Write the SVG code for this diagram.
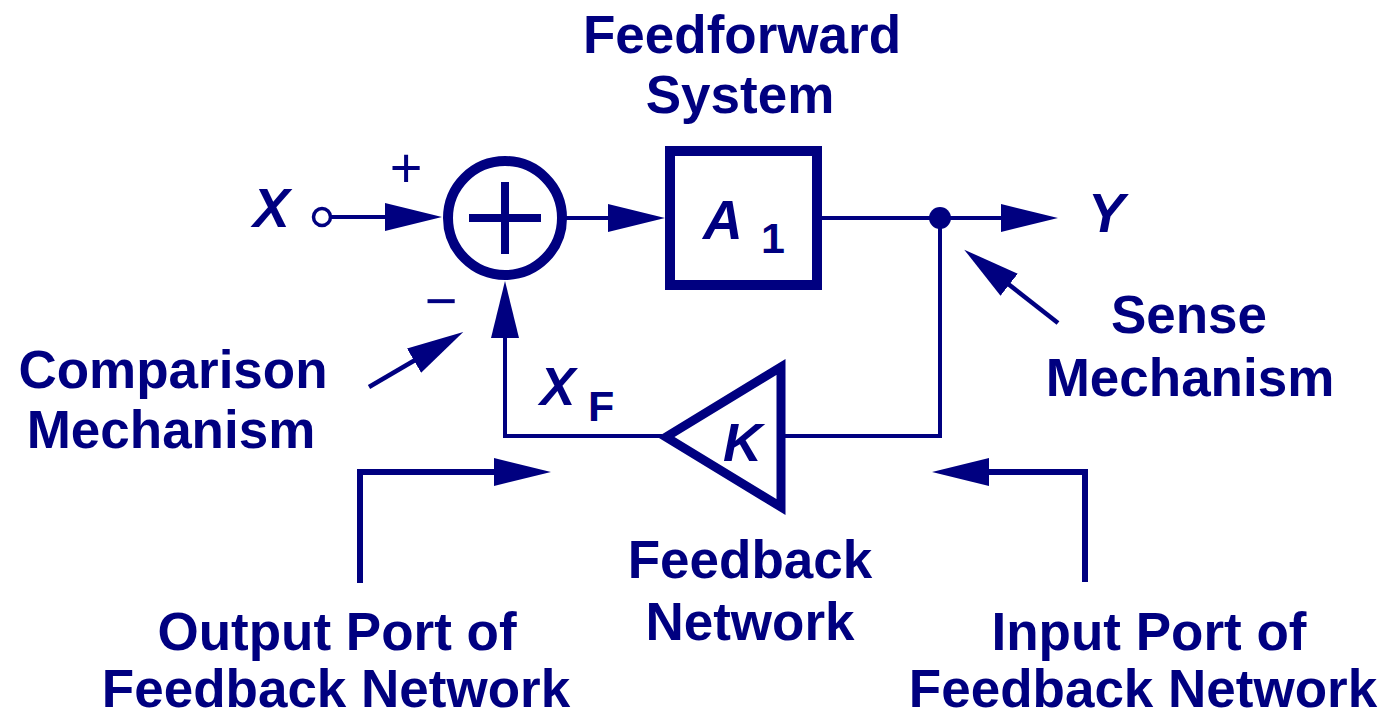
<svg xmlns="http://www.w3.org/2000/svg" width="1387" height="718" viewBox="0 0 1387 718">
<style>
.lbl{font-family:"Liberation Sans",Arial,sans-serif;font-weight:bold;font-size:53px;fill:#000080;text-anchor:middle}
.var{font-family:"Liberation Sans",Arial,sans-serif;font-weight:bold;font-style:italic;fill:#000080}
.sub{font-family:"Liberation Sans",Arial,sans-serif;font-weight:bold;fill:#000080}
.sign{font-family:"Liberation Sans",Arial,sans-serif;font-size:56px;fill:#000080;text-anchor:middle}
.wire{fill:none;stroke:#000080;stroke-width:4}
.thick{fill:none;stroke:#000080;stroke-width:6}
</style>
<defs>
<marker id="ah" markerUnits="userSpaceOnUse" markerWidth="60" markerHeight="30" refX="37" refY="14" orient="auto">
<path d="M0,0 L57,14 L0,28 z" fill="#000080"/>
</marker>
</defs>
<rect width="1387" height="718" fill="#ffffff"/>

<g id="title">
<text class="lbl" x="742" y="53">Feedforward</text>
<text class="lbl" x="740" y="113">System</text>
</g>

<g id="connectors">
<line class="wire" x1="331" y1="217" x2="422" y2="217" marker-end="url(#ah)"/>
<line class="wire" x1="562" y1="218" x2="645" y2="218" marker-end="url(#ah)"/>
<line class="wire" x1="817" y1="218" x2="940" y2="218"/>
<line class="wire" x1="940" y1="218" x2="1038" y2="218" marker-end="url(#ah)"/>
<polyline class="wire" points="940,218 940,436 785,436"/>
<polyline class="wire" points="662,436 505,436 505,301" marker-end="url(#ah)"/>
<line class="wire" x1="369" y1="387" x2="446" y2="342" marker-end="url(#ah)" style="stroke-width:4.5"/>
<line class="wire" x1="1058" y1="323" x2="980" y2="262" marker-end="url(#ah)" style="stroke-width:4.5"/>
<polyline class="thick" points="360,583 360,472 531,472" marker-end="url(#ah)"/>
<polyline class="thick" points="1085,582 1085,472 952,472" marker-end="url(#ah)"/>
</g>

<g id="input-x">
<text class="var" x="253" y="227" font-size="55">X</text>
<circle cx="322" cy="217" r="8.5" fill="#ffffff" stroke="#000080" stroke-width="3.5"/>
<text class="sign" x="406" y="187">+</text>
<text class="sign" x="441" y="320">−</text>
</g>

<g id="sum">
<circle cx="505" cy="218" r="57" fill="none" stroke="#000080" stroke-width="10"/>
<line x1="469" y1="218" x2="541" y2="218" stroke="#000080" stroke-width="8"/>
<line x1="505" y1="182" x2="505" y2="254" stroke="#000080" stroke-width="8"/>
</g>

<g id="feedforward">
<rect x="670" y="151" width="147" height="134" fill="none" stroke="#000080" stroke-width="10"/>
<text class="var" x="703" y="239" font-size="55">A</text>
<text class="sub" x="761" y="253" font-size="43">1</text>
</g>

<g id="sense-node">
<circle cx="940" cy="218" r="11" fill="#000080"/>
</g>

<g id="output-y">
<text class="var" x="1088" y="232" font-size="55">Y</text>
</g>

<g id="feedback">
<polygon points="666,437 781,367 781,507" fill="none" stroke="#000080" stroke-width="9" stroke-linejoin="miter"/>
<text class="var" x="723" y="461" font-size="54">K</text>
</g>

<g id="xf">
<text class="var" x="540" y="405" font-size="53">X</text>
<text class="sub" x="588" y="421" font-size="43">F</text>
</g>

<g id="labels">
<text class="lbl" x="173" y="388">Comparison</text>
<text class="lbl" x="171" y="448">Mechanism</text>
<text class="lbl" x="1189" y="333">Sense</text>
<text class="lbl" x="1190" y="396">Mechanism</text>
<text class="lbl" x="750" y="578">Feedback</text>
<text class="lbl" x="750" y="640">Network</text>
<text class="lbl" x="337" y="650">Output Port of</text>
<text class="lbl" x="336" y="707">Feedback Network</text>
<text class="lbl" x="1149" y="650">Input Port of</text>
<text class="lbl" x="1143" y="707">Feedback Network</text>
</g>
</svg>
